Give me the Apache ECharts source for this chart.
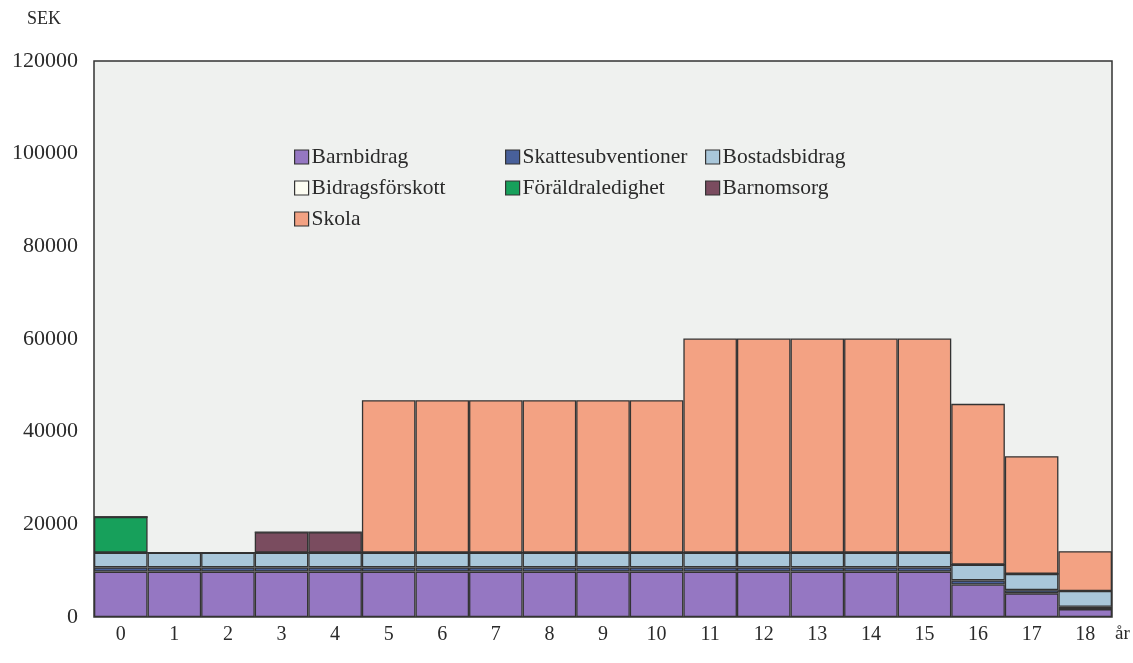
<!DOCTYPE html>
<html>
<head>
<meta charset="utf-8">
<script src="https://cdn.jsdelivr.net/npm/echarts@6/dist/echarts.min.js"></script>
<style>
  html, body { margin: 0; padding: 0; background: #fff; }
  #chart { width: 1133px; height: 663px; }
</style>
</head>
<body>
<div id="chart"></div>
<script>
const ages = ['0','1','2','3','4','5','6','7','8','9','10','11','12','13','14','15','16','17','18']
const yTicks = [0, 20000, 40000, 60000, 80000, 100000, 120000]

// SEK per år och ålder
const barnbidrag        = [9800,9800,9800,9800,9800,9800,9800,9800,9800,9800,9800,9800,9800,9800,9800,9800,7000,5100,1700]
const skattesubventioner = [900,900,900,900,900,900,900,900,900,900,900,900,900,900,900,900,900,700,500]
const bostadsbidrag     = [3200,3200,3200,3200,3200,3200,3200,3200,3200,3200,3200,3200,3200,3200,3200,3200,3400,3500,3400]
const bidragsforskott   = [0,0,0,0,0,0,0,0,0,0,0,0,0,0,0,0,0,0,0]
const foraldraledighet  = [7700,0,0,0,0,0,0,0,0,0,0,0,0,0,0,0,0,0,0]
const barnomsorg        = [0,0,0,4400,4400,0,0,0,0,0,0,0,0,0,0,0,0,0,0]
const skola             = [0,0,0,0,0,32900,32900,32900,32900,32900,32900,46200,46200,46200,46200,46200,34700,25400,8600]

const font = 'Liberation Serif'
const textColor = '#2a2a2a'

const seriesDefs = [
  { name: 'Barnbidrag', data: barnbidrag, color: '#9577c2' },
  { name: 'Skattesubventioner', data: skattesubventioner, color: '#48609a' },
  { name: 'Bostadsbidrag', data: bostadsbidrag, color: '#a9c7da' },
  { name: 'Bidragsförskott', data: bidragsforskott, color: '#fdfdf2' },
  { name: 'Föräldraledighet', data: foraldraledighet, color: '#17a05b' },
  { name: 'Barnomsorg', data: barnomsorg, color: '#7a4c5f' },
  { name: 'Skola', data: skola, color: '#f3a283' }
]

const legendBase = {
  orient: 'vertical',
  top: 141,
  itemWidth: 14,
  itemHeight: 14,
  itemGap: 9,
  icon: 'rect',
  textStyle: { fontFamily: font, fontSize: 21.5, lineHeight: 22, color: textColor, padding: [0, 0, 0, -2] },
  itemStyle: { borderColor: '#333', borderWidth: 1.2 }
}

const chart = echarts.init(document.getElementById('chart'))
chart.setOption({
  backgroundColor: '#fff',
  animation: false,
  title: {
    text: 'SEK',
    left: 22,
    top: 5,
    textStyle: { fontFamily: font, fontSize: 18, fontWeight: 'normal', color: textColor }
  },
  legend: [
    Object.assign({}, legendBase, { left: 289, data: ['Barnbidrag', 'Bidragsförskott', 'Skola'] }),
    Object.assign({}, legendBase, { left: 500, data: ['Skattesubventioner', 'Föräldraledighet'] }),
    Object.assign({}, legendBase, { left: 700, data: ['Bostadsbidrag', 'Barnomsorg'] })
  ],
  grid: {
    left: 94,
    right: 21,
    top: 61,
    bottom: 46,
    outerBoundsMode: 'none',
    show: true,
    backgroundColor: '#eff1ef',
    borderColor: '#333',
    borderWidth: 1.5
  },
  xAxis: {
    type: 'category',
    data: ages,
    name: 'år',
    nameLocation: 'end',
    nameGap: 3,
    nameTextStyle: { fontFamily: font, fontSize: 19, color: textColor, verticalAlign: 'top', padding: [8, 0, 0, 0] },
    axisLine: { show: false },
    axisTick: { show: false },
    axisLabel: { fontFamily: font, fontSize: 20, color: textColor, margin: 8 }
  },
  yAxis: {
    type: 'value',
    min: yTicks[0],
    max: yTicks[yTicks.length - 1],
    interval: 20000,
    axisLine: { show: false },
    axisTick: { show: false },
    splitLine: { show: false },
    axisLabel: { fontFamily: font, fontSize: 22, color: textColor, margin: 16, formatter: v => String(v) }
  },
  series: seriesDefs.map(s => ({
    name: s.name,
    type: 'bar',
    stack: 'total',
    data: s.data,
    barCategoryGap: '0%',
    itemStyle: { color: s.color, borderColor: '#333', borderWidth: 1.3 }
  }))
})
</script>
</body>
</html>
